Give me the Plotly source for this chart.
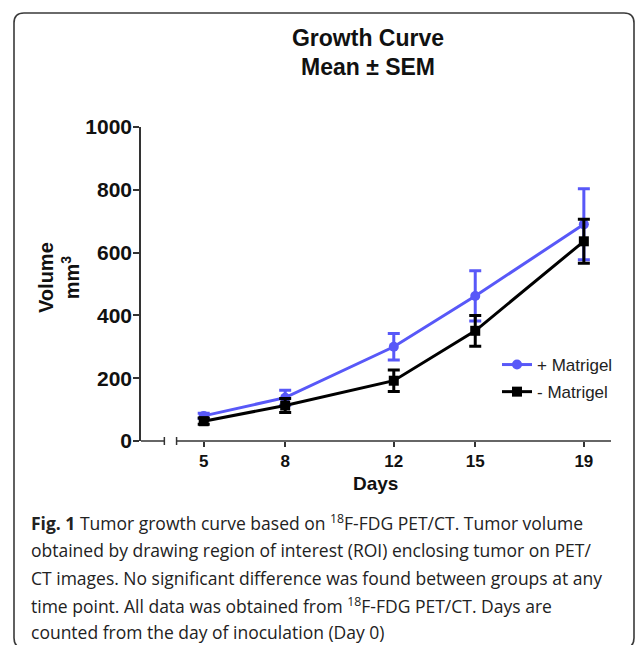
import plotly.graph_objects as go

# ---- data ----
days = [5, 8, 12, 15, 19]
plus_mean = [80, 138, 300, 462, 690]
plus_sem = [8, 24, 42, 80, 113]
minus_mean = [63, 113, 192, 351, 636]
minus_sem = [10, 22, 34, 49, 70]
x_ticks = [5, 8, 12, 15, 19]
y_ticks = [0, 200, 400, 600, 800, 1000]
series_names = ["+ Matrigel", "- Matrigel"]

# ---- layout geometry (pixels) ----
W, H = 635, 645
L, R, T, B = 141, 24, 127, 204
PW, PH = W - L - R, H - T - B

def px(xp):
    return (xp - L) / PW

def py(yp):
    return (H - B - yp) / PH

BLUE = "rgb(88, 88, 248)"
BLACK = "#000000"
AX = "#333333"
SANS = "Liberation Sans, Arial, Helvetica, sans-serif"

fig = go.Figure()
fig.add_trace(go.Scatter(
    x=days, y=plus_mean, name=series_names[0], mode="lines+markers",
    line=dict(color=BLUE, width=3),
    marker=dict(color=BLUE, size=10, symbol="circle"),
    error_y=dict(type="data", array=plus_sem, color=BLUE, thickness=3, width=6),
    legendgroup="a",
))
fig.add_trace(go.Scatter(
    x=days, y=minus_mean, name=series_names[1], mode="lines+markers",
    line=dict(color=BLACK, width=3),
    marker=dict(color=BLACK, size=10, symbol="square"),
    error_y=dict(type="data", array=minus_sem, color=BLACK, thickness=3, width=6),
    legendgroup="b",
))

x_lo, x_break1, x_break2, x_hi = 2.69, 3.55, 4.0, 20.0

shapes = []
# broken x axis line
for a, b in [(x_lo, x_break1), (x_break2, x_hi)]:
    shapes.append(dict(type="line", xref="x", yref="paper", x0=a, x1=b, y0=0, y1=0,
                       line=dict(color=AX, width=1.5)))
for xb in [x_break1, x_break2]:
    shapes.append(dict(type="line", xref="x", yref="paper", x0=xb, x1=xb,
                       y0=-4 / PH, y1=4 / PH, line=dict(color=AX, width=1.5)))

# rounded frame around the figure
x0b, x1b, y0b, y1b, r = 14, 634, 13, 648, 10
path = (f"M {px(x0b)},{py(y0b + r)} Q {px(x0b)},{py(y0b)} {px(x0b + r)},{py(y0b)} "
        f"L {px(x1b - r)},{py(y0b)} Q {px(x1b)},{py(y0b)} {px(x1b)},{py(y0b + r)} "
        f"L {px(x1b)},{py(y1b - r)} Q {px(x1b)},{py(y1b)} {px(x1b - r)},{py(y1b)} "
        f"L {px(x0b + r)},{py(y1b)} Q {px(x0b)},{py(y1b)} {px(x0b)},{py(y1b - r)} Z")
shapes.append(dict(type="path", xref="paper", yref="paper", path=path,
                   line=dict(color="#3a3a3a", width=1.6)))

annotations = [
    dict(text="Volume<br>mm<sup>3</sup>", textangle=-90, xref="paper", yref="paper",
         x=px(59), y=py(278), xanchor="center", yanchor="middle", showarrow=False,
         font=dict(family=SANS, size=20, color="#111", weight="bold")),
    dict(text="Days", xref="paper", yref="paper", x=px(375.5), y=py(483),
         xanchor="center", yanchor="middle", showarrow=False,
         font=dict(family=SANS, size=19, color="#111", weight="bold")),
]

caption_lines = [
    "<b>Fig. 1</b> Tumor growth curve based on <sup>18</sup>F-FDG PET/CT. Tumor volume",
    "obtained by drawing region of interest (ROI) enclosing tumor on PET/",
    "CT images. No significant difference was found between groups at any",
    "time point. All data was obtained from <sup>18</sup>F-FDG PET/CT. Days are",
    "counted from the day of inoculation (Day 0)",
]
cap_y = [522, 550, 578, 605, 632]
for line, yy in zip(caption_lines, cap_y):
    annotations.append(dict(text=line, xref="paper", yref="paper", x=px(29), y=py(yy),
                            xanchor="left", yanchor="middle", showarrow=False, align="left",
                            font=dict(family="Open Sans, sans-serif", size=17.5, color="#222")))

fig.update_layout(
    width=W, height=H, autosize=False,
    margin=dict(l=L, r=R, t=T, b=B, pad=0),
    paper_bgcolor="white", plot_bgcolor="white",
    title=dict(text="Growth Curve<br>Mean ± SEM", x=368 / W, xref="container",
               y=1 - 45.5 / H, yref="container", xanchor="center", yanchor="middle",
               font=dict(family=SANS, size=23, color="#111", weight="bold")),
    xaxis=dict(range=[x_lo, x_hi], showline=False, showgrid=False, zeroline=False,
               tickvals=x_ticks, ticks="outside", ticklen=5, tickwidth=1.5, tickcolor=AX,
               tickfont=dict(family=SANS, size=17, color="#111", weight="bold")),
    yaxis=dict(range=[0, 1000], showline=True, linecolor=AX, linewidth=1.5,
               showgrid=False, zeroline=False, tickvals=y_ticks, ticks="outside",
               ticklen=6, tickwidth=1.5, tickcolor=AX, ticklabelstandoff=-3,
               tickfont=dict(family=SANS, size=21, color="#111", weight="bold")),
    legend=dict(x=px(497), y=py(347), xanchor="left", yanchor="top",
                font=dict(family=SANS, size=17, color="#222"),
                bgcolor="rgba(0,0,0,0)", tracegroupgap=2, traceorder="grouped",
                itemwidth=30),
    shapes=shapes,
    annotations=annotations,
)

fig.write_html("out.html", config={"displayModeBar": False},
               post_script="document.body.style.margin='0';")
